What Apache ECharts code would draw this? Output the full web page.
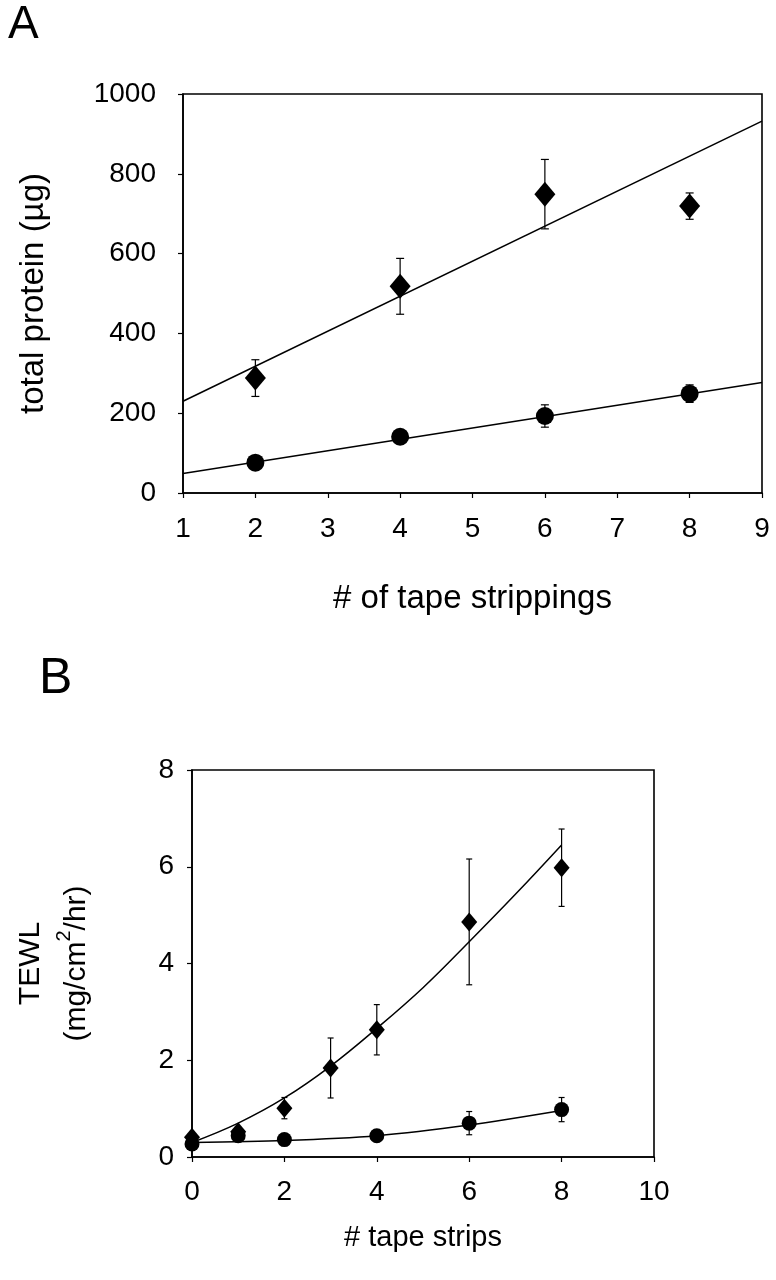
<!DOCTYPE html>
<html>
<head>
<meta charset="utf-8">
<script src="https://cdn.jsdelivr.net/npm/echarts@6/dist/echarts.min.js"></script>
<style>html,body{margin:0;padding:0;background:#fff;}#c{width:776px;height:1280px;}</style>
</head>
<body>
<div id="c"></div>
<script>
// ---------- Panel A data ----------
const xA = [2, 4, 6, 8];
const diamondA = [288, 518, 749, 719];
const diamondErrA = [46, 70, 87, 33];
const circleA = [76, 141, 193, 249];
const circleErrA = [12, 14, 28, 22];
const fitXA = [1, 9];
const diamondFitA = [230, 932];
const circleFitA = [49, 277];
const xTicksA = [1, 2, 3, 4, 5, 6, 7, 8, 9];
const yTicksA = [0, 200, 400, 600, 800, 1000];

// ---------- Panel B data ----------
const xBd = [0, 1, 2, 3, 4, 6, 8];
const diamondB = [0.41, 0.52, 1.01, 1.84, 2.63, 4.86, 5.98];
const diamondErrB = [0.08, 0.08, 0.22, 0.62, 0.52, 1.30, 0.80];
const xBc = [0, 1, 2, 4, 6, 8];
const circleB = [0.27, 0.44, 0.36, 0.44, 0.70, 0.98];
const circleErrB = [0.05, 0.05, 0.05, 0.06, 0.24, 0.25];
const fitXBd = [0, 1, 2, 3, 4, 5, 6, 7, 8];
const diamondFitB = [0.30, 0.70, 1.22, 1.88, 2.66, 3.50, 4.45, 5.43, 6.45];
const fitXBc = [0, 2, 4, 6, 8];
const circleFitB = [0.30, 0.34, 0.44, 0.66, 0.96];
const xTicksB = [0, 2, 4, 6, 8, 10];
const yTicksB = [0, 2, 4, 6, 8];

const FONT = "'Liberation Sans', Arial, Helvetica, sans-serif";
const zip = (xs, ys) => xs.map((x, i) => [x, ys[i]]);
const errData = (xs, ys, es) => xs.map((x, i) => [x, ys[i] - es[i], ys[i] + es[i]]);

function errRenderer(cap) {
  return function (params, api) {
    const x = api.value(0), lo = api.value(1), hi = api.value(2);
    const pHi = api.coord([x, hi]);
    const pLo = api.coord([x, lo]);
    const st = { stroke: '#000', lineWidth: 1.2 };
    return {
      type: 'group',
      children: [
        { type: 'line', shape: { x1: pHi[0], y1: pHi[1], x2: pLo[0], y2: pLo[1] }, style: st },
        { type: 'line', shape: { x1: pHi[0] - cap, y1: pHi[1], x2: pHi[0] + cap, y2: pHi[1] }, style: st },
        { type: 'line', shape: { x1: pLo[0] - cap, y1: pLo[1], x2: pLo[0] + cap, y2: pLo[1] }, style: st }
      ]
    };
  };
}

const axisCommon = {
  axisLine: { show: true, onZero: false, lineStyle: { color: '#000', width: 1.6 } },
  axisTick: { show: true, inside: false, length: 5, lineStyle: { color: '#000', width: 1.2 } },
  splitLine: { show: false },
  nameTextStyle: { color: '#000', fontFamily: FONT }
};
const plain = v => String(v);

const chart = echarts.init(document.getElementById('c'), null, { renderer: 'canvas' });
chart.setOption({
  backgroundColor: '#fff',
  animation: false,
  graphic: [
    { type: 'text', left: 8, top: 2, style: { text: 'A', font: '46px ' + FONT, fill: '#000' } },
    { type: 'text', left: 39, top: 654, style: { text: 'B', font: '50px ' + FONT, fill: '#000' } }
  ],
  grid: [
    { left: 183, top: 94, width: 579, height: 399, show: true, borderColor: '#000', borderWidth: 1.6, backgroundColor: 'transparent' },
    { left: 180, top: 770, width: 474, height: 387, show: true, borderColor: '#000', borderWidth: 1.6, backgroundColor: 'transparent' }
  ],
  xAxis: [
    Object.assign({}, axisCommon, {
      gridIndex: 0, type: 'value', min: xTicksA[0], max: xTicksA[xTicksA.length - 1], interval: 1,
      name: '# of tape strippings', nameLocation: 'middle', nameGap: 89,
      nameTextStyle: { color: '#000', fontFamily: FONT, fontSize: 33 },
      axisLabel: { color: '#000', fontFamily: FONT, fontSize: 28, margin: 22, formatter: plain }
    }),
    Object.assign({}, axisCommon, {
      gridIndex: 1, type: 'value', min: xTicksB[0], max: xTicksB[xTicksB.length - 1], interval: 2,
      name: '# tape strips', nameLocation: 'middle', nameGap: 66,
      nameTextStyle: { color: '#000', fontFamily: FONT, fontSize: 29 },
      axisLabel: { color: '#000', fontFamily: FONT, fontSize: 28, margin: 21, formatter: plain }
    })
  ],
  yAxis: [
    Object.assign({}, axisCommon, {
      gridIndex: 0, type: 'value', min: yTicksA[0], max: yTicksA[yTicksA.length - 1], interval: 200,
      name: 'total protein (\u00b5g)', nameLocation: 'middle', nameGap: 133, nameRotate: 90,
      nameTextStyle: { color: '#000', fontFamily: FONT, fontSize: 33 },
      axisLabel: { color: '#000', fontFamily: FONT, fontSize: 28, margin: 27, formatter: plain }
    }),
    Object.assign({}, axisCommon, {
      gridIndex: 1, type: 'value', min: yTicksB[0], max: yTicksB[yTicksB.length - 1], interval: 2,
      name: 'TEWL\n(mg/cm{sup|2}/hr)', nameLocation: 'middle', nameGap: 92, nameRotate: 90,
      nameTextStyle: {
        color: '#000', fontFamily: FONT, fontSize: 30, lineHeight: 46,
        rich: { sup: { fontSize: 20, fontFamily: FONT, color: '#000', verticalAlign: 'top', lineHeight: 46, padding: [0, 0, 12, 0] } }
      },
      axisLabel: { color: '#000', fontFamily: FONT, fontSize: 28, margin: 18, formatter: plain }
    })
  ],
  series: [
    // Panel A
    { type: 'line', xAxisIndex: 0, yAxisIndex: 0, data: zip(fitXA, diamondFitA), showSymbol: false, lineStyle: { color: '#000', width: 1.5 }, z: 2 },
    { type: 'line', xAxisIndex: 0, yAxisIndex: 0, data: zip(fitXA, circleFitA), showSymbol: false, lineStyle: { color: '#000', width: 1.5 }, z: 2 },
    { type: 'custom', xAxisIndex: 0, yAxisIndex: 0, renderItem: errRenderer(4), data: errData(xA, diamondA, diamondErrA), encode: { x: 0, y: [1, 2] }, z: 3 },
    { type: 'custom', xAxisIndex: 0, yAxisIndex: 0, renderItem: errRenderer(4), data: errData(xA, circleA, circleErrA), encode: { x: 0, y: [1, 2] }, z: 3 },
    { type: 'scatter', xAxisIndex: 0, yAxisIndex: 0, symbol: 'diamond', symbolSize: [21, 25], data: zip(xA, diamondA), itemStyle: { color: '#000', opacity: 1 }, z: 4 },
    { type: 'scatter', xAxisIndex: 0, yAxisIndex: 0, symbol: 'circle', symbolSize: 18, data: zip(xA, circleA), itemStyle: { color: '#000', opacity: 1 }, z: 4 },
    // Panel B
    { type: 'line', xAxisIndex: 1, yAxisIndex: 1, data: zip(fitXBd, diamondFitB), smooth: 0.4, showSymbol: false, lineStyle: { color: '#000', width: 1.5 }, z: 2 },
    { type: 'line', xAxisIndex: 1, yAxisIndex: 1, data: zip(fitXBc, circleFitB), smooth: 0.3, showSymbol: false, lineStyle: { color: '#000', width: 1.5 }, z: 2 },
    { type: 'custom', xAxisIndex: 1, yAxisIndex: 1, renderItem: errRenderer(3), data: errData(xBd, diamondB, diamondErrB), encode: { x: 0, y: [1, 2] }, z: 3 },
    { type: 'custom', xAxisIndex: 1, yAxisIndex: 1, renderItem: errRenderer(3), data: errData(xBc, circleB, circleErrB), encode: { x: 0, y: [1, 2] }, z: 3 },
    { type: 'scatter', xAxisIndex: 1, yAxisIndex: 1, symbol: 'diamond', symbolSize: [16, 19], data: zip(xBd, diamondB), itemStyle: { color: '#000', opacity: 1 }, z: 4 },
    { type: 'scatter', xAxisIndex: 1, yAxisIndex: 1, symbol: 'circle', symbolSize: 15, data: zip(xBc, circleB), itemStyle: { color: '#000', opacity: 1 }, z: 4 }
  ]
});
</script>
</body>
</html>
